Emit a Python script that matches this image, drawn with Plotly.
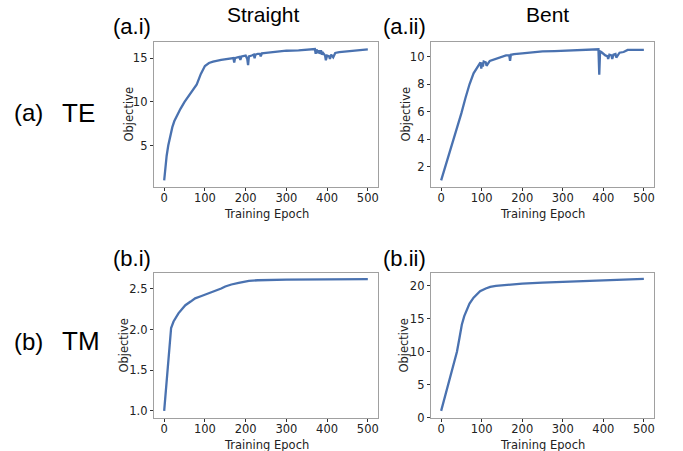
import plotly.graph_objects as go

# ---------------- data ----------------
te_straight_epoch = [0, 3, 6, 10, 15, 20, 25, 30, 40, 50, 60, 70, 80, 90, 100, 110, 120, 140, 160, 170,
                     172, 174, 180, 185, 187, 190, 200, 204, 206, 208, 215, 220, 222, 224, 230, 235, 237,
                     240, 250, 270, 300, 330, 360, 370, 372, 374, 378, 380, 382, 385, 387, 390, 395, 397,
                     400, 405, 407, 410, 415, 417, 420, 430, 450, 470, 500]
te_straight_obj = [1.0, 2.5, 3.8, 5.0, 6.2, 7.1, 7.8, 8.3, 9.2, 10.0, 10.7, 11.3, 12.0, 13.2, 14.1, 14.45, 14.6, 14.8, 14.95, 15.0,
                   14.5, 15.0, 15.1, 15.15, 14.8, 15.2, 15.3, 14.9, 14.2, 15.2, 15.3, 15.4, 15.0, 15.4, 15.5, 15.5, 15.2,
                   15.55, 15.6, 15.7, 15.85, 15.9, 16.0, 16.05, 15.5, 16.0, 15.6, 15.9, 15.5, 15.9, 15.4, 15.6, 15.3, 14.75,
                   15.3, 15.2, 14.9, 15.4, 15.1, 15.4, 15.6, 15.7, 15.8, 15.9, 16.0]

te_bent_epoch = [0, 10, 20, 30, 40, 50, 60, 70, 80, 90, 97, 99, 101, 103, 105, 110, 112, 120, 130, 140, 150,
                 160, 168, 170, 172, 180, 200, 230, 250, 280, 300, 320, 350, 380, 388, 390, 392, 395, 400,
                 405, 410, 412, 415, 420, 422, 425, 430, 432, 440, 450, 460, 480, 500]
te_bent_obj = [1.0, 1.95, 2.9, 3.9, 4.9, 5.9, 7.0, 8.0, 8.8, 9.3, 9.6, 9.15, 9.6, 9.3, 9.65, 9.6, 9.35, 9.7, 9.8, 9.85, 9.95,
               10.1, 10.1, 9.7, 10.15, 10.2, 10.25, 10.35, 10.4, 10.42, 10.45, 10.45, 10.5, 10.55, 10.55, 8.7, 10.4, 10.35, 10.2,
               10.1, 10.05, 9.85, 10.15, 10.1, 9.85, 10.15, 10.2, 9.95, 10.3, 10.35, 10.5, 10.5, 10.5]

tm_straight_epoch = [0, 3, 7, 11, 17, 23, 30, 35, 45, 52, 65, 76, 90, 101, 115, 126, 140, 150, 165, 183, 200, 208, 230, 250, 300, 400, 500]
tm_straight_obj = [1.0, 1.2, 1.45, 1.74, 2.02, 2.1, 2.17, 2.2, 2.26, 2.3, 2.345, 2.385, 2.41, 2.43, 2.455, 2.475, 2.505, 2.53, 2.555, 2.575, 2.595, 2.6, 2.607, 2.61, 2.615, 2.618, 2.62]

tm_bent_epoch = [0, 10, 22, 30, 39, 45, 51, 57, 63, 70, 80, 90, 96, 110, 121, 135, 150, 175, 200, 250, 300, 350, 400, 450, 500]
tm_bent_obj = [1.0, 3.3, 6.0, 7.9, 10.0, 12.0, 14.1, 15.4, 16.4, 17.3, 18.2, 18.9, 19.2, 19.6, 19.85, 20.0, 20.1, 20.25, 20.35, 20.5, 20.6, 20.7, 20.85, 20.95, 21.05]

x_ticks = [0, 100, 200, 300, 400, 500]
x_title = "Training Epoch"
y_title = "Objective"
panel_titles = ["Straight", "Bent"]
panel_labels = ["(a.i)", "(a.ii)", "(b.i)", "(b.ii)"]
row_letters = ["(a)", "(b)"]
row_modes = ["TE", "TM"]

# ---------------- figure ----------------
W, H = 683, 451
LINE = "#4a72b0"
SPINE = "#a0a0a0"
SMALL = "DejaVu Sans, Verdana, sans-serif"
TICKFONT = dict(family=SMALL, size=11.5, color="#222222")
TITLEFONT = dict(family=SMALL, size=11.5, color="#222222")
BIG = "Liberation Sans, Arial, sans-serif"

xpx = [(154, 378), (431, 654)]
ypx = [(42, 187), (272.7, 417.5)]
xdoms = [[a / W, b / W] for a, b in xpx]
ydoms = [[1 - b / H, 1 - a / H] for a, b in ypx]

series = [
    (te_straight_epoch, te_straight_obj, 0, 0, [0.245, 16.85], [5, 10, 15], None, 26),
    (te_bent_epoch, te_bent_obj, 0, 1, [0.52, 11.08], [2, 4, 6, 8, 10], None, 26),
    (tm_straight_epoch, tm_straight_obj, 1, 0, [0.919, 2.70], [1.0, 1.5, 2.0, 2.5], ".1f", 29.5),
    (tm_bent_epoch, tm_bent_obj, 1, 1, [0, 22], [0, 5, 10, 15, 20], None, 26.5),
]

fig = go.Figure()
layout = dict(width=W, height=H, margin=dict(l=0, r=0, t=0, b=0),
              paper_bgcolor="white", plot_bgcolor="white", showlegend=False)
ann = []

for i, (ex, ey, r, c, yr, yt, fmt, yoff) in enumerate(series):
    n = "" if i == 0 else str(i + 1)
    fig.add_trace(go.Scatter(x=ex, y=ey, mode="lines", line=dict(color=LINE, width=2.3),
                             xaxis="x" + n, yaxis="y" + n, hoverinfo="skip"))
    common = dict(showline=True, linecolor=SPINE, linewidth=1.2, mirror=True, showgrid=False,
                  zeroline=False, ticks="outside", ticklen=3, tickwidth=1, tickcolor="#333333",
                  tickfont=TICKFONT, automargin=False)
    layout["xaxis" + n] = dict(common, domain=xdoms[c], anchor="y" + n, range=[-25, 525],
                               tickvals=x_ticks, ticklabelstandoff=-3)
    ya = dict(common, domain=ydoms[r], anchor="x" + n, range=yr, tickvals=yt)
    if fmt:
        ya["tickformat"] = fmt
    layout["yaxis" + n] = ya
    # axis titles
    x0, x1 = xpx[c]
    y0, y1 = ypx[r]
    ann.append(dict(text=x_title, x=(x0 + x1) / 2 / W, y=1 - (y1 + 27) / H, xref="paper", yref="paper",
                    showarrow=False, xanchor="center", yanchor="middle", font=TITLEFONT))
    ann.append(dict(text=y_title, x=(x0 - yoff) / W, y=1 - (y0 + y1) / 2 / H, xref="paper", yref="paper",
                    showarrow=False, xanchor="center", yanchor="middle", textangle=-90, font=TITLEFONT))

# column titles
for c, t in enumerate(panel_titles):
    xc = [263, 547][c]
    ann.append(dict(text=t, x=xc / W, y=1 - 15 / H, xref="paper", yref="paper", showarrow=False,
                    xanchor="center", yanchor="middle", font=dict(family=BIG, size=21, color="black")))
# panel labels
pl_pos = [(111, 27), (381, 27), (111, 258), (381, 258)]
for t, (px, py) in zip(panel_labels, pl_pos):
    ann.append(dict(text=t, x=px / W, y=1 - py / H, xref="paper", yref="paper", showarrow=False,
                    xanchor="left", yanchor="middle", font=dict(family=BIG, size=22, color="black")))
# row labels
for r in range(2):
    yc = [113, 341][r]
    ann.append(dict(text=row_letters[r], x=12 / W, y=1 - yc / H, xref="paper", yref="paper", showarrow=False,
                    xanchor="left", yanchor="middle", font=dict(family=BIG, size=24, color="black")))
    ann.append(dict(text=row_modes[r], x=60 / W, y=1 - yc / H, xref="paper", yref="paper", showarrow=False,
                    xanchor="left", yanchor="middle", font=dict(family=BIG, size=26, color="black")))
layout["annotations"] = ann

fig.update_layout(**layout)
fig.write_html("out.html", config={"displayModeBar": False, "staticPlot": True},
               post_script="document.body.style.margin='0px';document.body.style.overflow='hidden';")
